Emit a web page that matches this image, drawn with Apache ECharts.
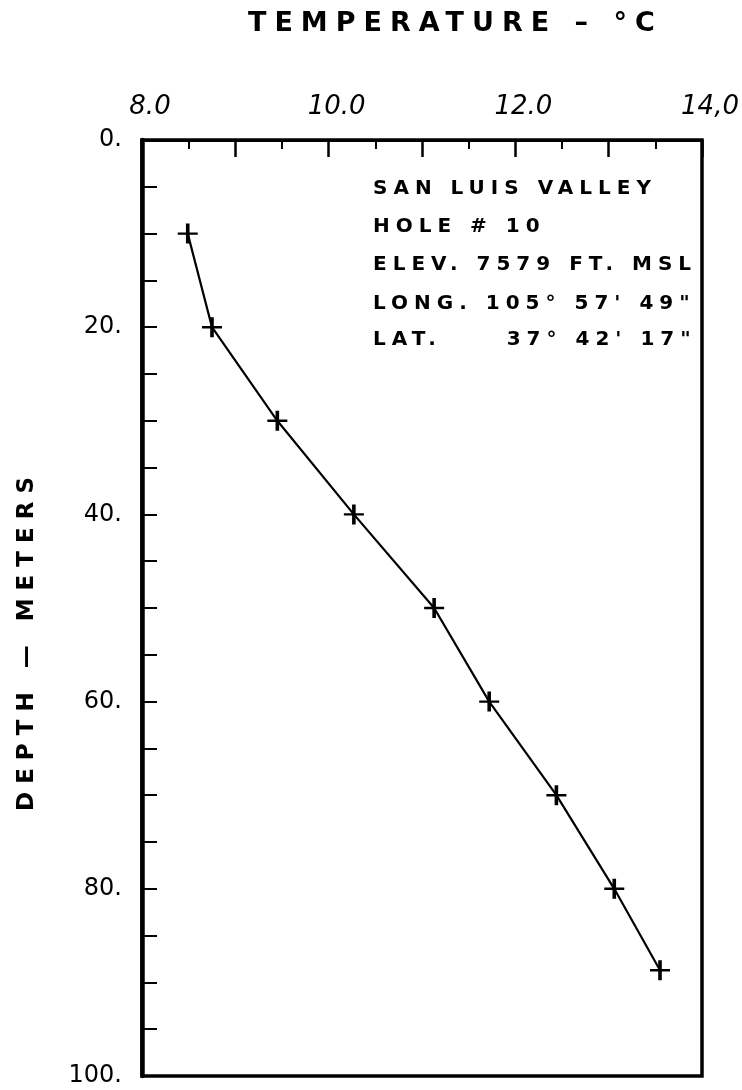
<!DOCTYPE html>
<html>
<head>
<meta charset="utf-8">
<script src="https://cdn.jsdelivr.net/npm/echarts@6/dist/echarts.min.js"></script>
<style>
html,body{margin:0;padding:0;background:#fff;}
#chart{width:742px;height:1090px;}
</style>
</head>
<body>
<div id="chart"></div>
<script>
// ---- data ----
const temperature = [8.49, 8.75, 9.45, 10.27, 11.13, 11.72, 12.44, 13.06, 13.55];
const depth = [10, 20, 30, 40, 50, 60, 70, 80, 88.7];
const xTickLabels = {8: '8.0', 10: '10.0', 12: '12.0', 14: '14,0'};
const yTickLabels = {0: '0.', 20: '20.', 40: '40.', 60: '60.', 80: '80.', 100: '100.'};
const titleText = 'TEMPERATURE – °C';
const yTitleText = 'DEPTH — METERS';
const annotationLines = [
  'SAN LUIS VALLEY',
  'HOLE # 10',
  'ELEV. 7579 FT. MSL',
  'LONG. 105° 57\' 49"',
  'LAT.     37° 42\' 17"'
];

// hand-lettered look: wide letter spacing for some text sizes
(function () {
  const P = CanvasRenderingContext2D.prototype;
  const spacing = {27: 8, 23: 8, 20: 6};
  ['fillText', 'strokeText'].forEach(function (name) {
    const orig = P[name];
    P[name] = function (t, x, y, m) {
      const mm = /(\d+(?:\.\d+)?)px/.exec(this.font);
      const s = mm && spacing[Math.round(+mm[1])];
      if ('letterSpacing' in this) this.letterSpacing = s ? s + 'px' : '0px';
      return m === undefined ? orig.call(this, t, x, y) : orig.call(this, t, x, y, m);
    };
  });
})();

const FONT = 'DejaVu Sans';
const points = temperature.map((t, i) => [t, depth[i]]);

const chart = echarts.init(document.getElementById('chart'), null, {renderer: 'canvas'});

const annotationGraphics = annotationLines.map((line, i) => ({
  type: 'text',
  x: 373,
  y: [189, 227, 265, 304, 340][i],
  style: {
    text: line,
    fontFamily: FONT,
    fontSize: 20,
    fontWeight: 'bold',
    fill: '#000',
    textAlign: 'left',
    textVerticalAlign: 'middle'
  }
}));

chart.setOption({
  backgroundColor: '#fff',
  animation: false,
  grid: {
    left: 142, right: 40, top: 140, bottom: 14,
    show: true, borderColor: '#000', borderWidth: 3.5,
    containLabel: false, outerBoundsMode: 'none'
  },
  xAxis: {
    type: 'value',
    position: 'top',
    min: 8, max: 14, interval: 1,
    axisLine: {show: true, onZero: false, lineStyle: {color: '#000', width: 3}},
    axisTick: {show: true, inside: true, length: 17, lineStyle: {color: '#000', width: 2.5}},
    minorTick: {show: true, splitNumber: 2, length: 9, lineStyle: {color: '#000', width: 2}},
    splitLine: {show: false},
    minorSplitLine: {show: false},
    axisLabel: {
      show: true,
      margin: 20,
      color: '#000',
      fontFamily: FONT,
      fontSize: 26,
      fontStyle: 'italic',
      padding: [0, 0, 0, 16],
      formatter: v => xTickLabels[v] || ''
    }
  },
  yAxis: {
    type: 'value',
    inverse: true,
    min: 0, max: 100, interval: 5,
    axisLine: {show: true, onZero: false, lineStyle: {color: '#000', width: 4.5}},
    axisTick: {show: true, inside: true, length: 15, lineStyle: {color: '#000', width: 2}},
    splitLine: {show: false},
    axisLabel: {
      show: true,
      margin: 20,
      color: '#000',
      fontFamily: FONT,
      fontSize: 24,
      formatter: v => yTickLabels[v] || ''
    }
  },
  series: [{
    type: 'line',
    data: points,
    lineStyle: {color: '#000', width: 2.2},
    symbol: 'path://M0,8.8L20,8.8L20,11.2L0,11.2Z M8.2,0L11.8,0L11.8,20L8.2,20Z',
    symbolSize: 20,
    itemStyle: {color: '#000'},
    z: 5
  }],
  graphic: [
    {
      type: 'text',
      x: 248,
      y: 24,
      style: {
        text: titleText,
        fontFamily: FONT,
        fontSize: 27,
        fontWeight: 'bold',
        fill: '#000',
        textAlign: 'left',
        textVerticalAlign: 'middle'
      }
    },
    {
      type: 'text',
      x: 27,
      y: 640,
      rotation: Math.PI / 2,
      style: {
        text: yTitleText,
        fontFamily: FONT,
        fontSize: 23,
        fontWeight: 'bold',
        fill: '#000',
        textAlign: 'center',
        textVerticalAlign: 'middle'
      }
    }
  ].concat(annotationGraphics)
});
</script>
</body>
</html>
